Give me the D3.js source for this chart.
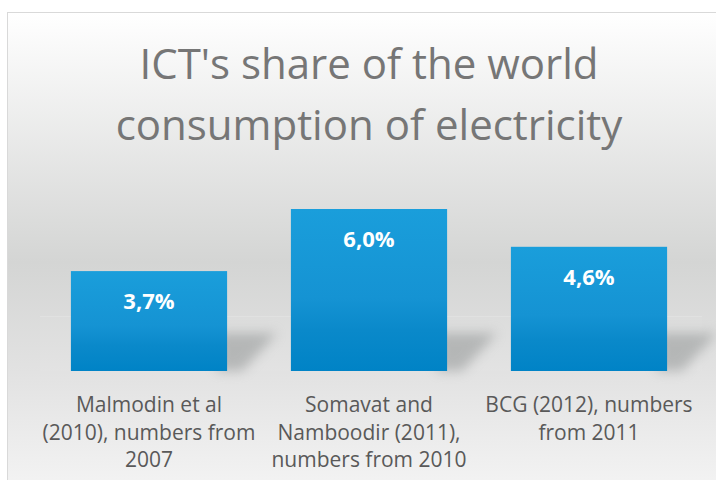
<!DOCTYPE html>
<html lang="en">
<head>
<meta charset="UTF-8">
<title>ICT's share of the world consumption of electricity</title>
<script src="https://d3js.org/d3.v7.min.js"></script>
<style>
    body { margin: 0; background: #fff; }
    svg { display: block; }
</style>
</head>
<body>
<div id="chart"></div>
<script>
// chart data
const categories = [
    ["Malmodin et al", "(2010), numbers from", "2007"],
    ["Somavat and", "Namboodir (2011),", "numbers from 2010"],
    ["BCG (2012), numbers", "from 2011"]
];
const values = [3.7, 6.0, 4.6];
const valueLabels = ["3,7%", "6,0%", "4,6%"];
const titleLines = ["ICT's share of the world", "consumption of electricity"];

const W = 716, H = 480;
const svg = d3.select("#chart").append("svg").attr("width", W).attr("height", H);
const defs = svg.append("defs");

// background gradient
const bg = defs.append("linearGradient").attr("id", "bg")
    .attr("x1", 0).attr("y1", 0).attr("x2", 0).attr("y2", 1);
bg.append("stop").attr("offset", "0%").attr("stop-color", "#ffffff");
bg.append("stop").attr("offset", "52%").attr("stop-color", "#d4d5d4");
bg.append("stop").attr("offset", "75%").attr("stop-color", "#e2e2e2");
bg.append("stop").attr("offset", "100%").attr("stop-color", "#f4f4f4");

// bar gradient
const bg2 = defs.append("linearGradient").attr("id", "barGrad")
    .attr("x1", 0).attr("y1", 0).attr("x2", 0).attr("y2", 1);
bg2.append("stop").attr("offset", "0%").attr("stop-color", "#1a9edb");
bg2.append("stop").attr("offset", "55%").attr("stop-color", "#1593d3");
bg2.append("stop").attr("offset", "75%").attr("stop-color", "#0a89ca");
bg2.append("stop").attr("offset", "100%").attr("stop-color", "#0083c6");

const blur = defs.append("filter").attr("id", "blur")
    .attr("x", "-50%").attr("y", "-50%").attr("width", "200%").attr("height", "200%");
blur.append("feGaussianBlur").attr("stdDeviation", 6);

svg.append("rect")
    .attr("x", 7.5).attr("y", 12.5).attr("width", W).attr("height", H)
    .attr("fill", "url(#bg)")
    .attr("stroke", "#d9d9d9");

// title
svg.append("g").selectAll("text")
    .data(titleLines)
    .join("text")
    .attr("x", 369)
    .attr("y", (d, i) => 79 + i * 61)
    .attr("text-anchor", "middle")
    .attr("font-family", "'Open Sans', sans-serif")
    .attr("font-size", 42)
    .attr("fill", "#767676")
    .text(d => d);

// scales
const baseY = 371;
const x = d3.scaleBand()
    .domain(d3.range(values.length))
    .range([39, 699])
    .paddingInner(0.29)
    .paddingOuter(0.145);
const y = d3.scaleLinear().domain([0, 6]).range([baseY, 209]);

const g = svg.append("g");

// very faint floor panel behind the bars
g.append("rect")
    .attr("x", 40).attr("y", 316)
    .attr("width", 662).attr("height", baseY - 316)
    .attr("fill", "#ffffff").attr("opacity", 0.05);
g.append("line")
    .attr("x1", 40).attr("x2", 702).attr("y1", 316.5).attr("y2", 316.5)
    .attr("stroke", "#ffffff").attr("opacity", 0.15);

// shadows
g.selectAll(".shadow")
    .data(values)
    .join("path")
    .attr("class", "shadow")
    .attr("d", (d, i) => {
        const x1 = x(i) + x.bandwidth();
        return `M${x1 - 10},${baseY} L${x1 + 15},${baseY} L${x1 + 50},${baseY - 38} L${x1 - 10},${baseY - 38} Z`;
    })
    .attr("fill", "#8a8e8e")
    .attr("opacity", 0.5)
    .attr("filter", "url(#blur)");

// bars
g.selectAll(".bar")
    .data(values)
    .join("rect")
    .attr("class", "bar")
    .attr("x", (d, i) => x(i))
    .attr("y", d => y(d))
    .attr("width", x.bandwidth())
    .attr("height", d => baseY - y(d))
    .attr("fill", "url(#barGrad)");

// value labels
g.selectAll(".val")
    .data(values)
    .join("text")
    .attr("class", "val")
    .attr("x", (d, i) => x(i) + x.bandwidth() / 2)
    .attr("y", d => y(d) + 38)
    .attr("text-anchor", "middle")
    .attr("font-family", "'Open Sans', sans-serif")
    .attr("font-weight", "bold")
    .attr("font-size", 22)
    .attr("fill", "#ffffff")
    .text((d, i) => valueLabels[i]);

// category labels
const cat = g.selectAll(".cat")
    .data(categories)
    .join("text")
    .attr("class", "cat")
    .attr("text-anchor", "middle")
    .attr("font-family", "'Open Sans', sans-serif")
    .attr("font-size", 21)
    .attr("fill", "#595959");
cat.selectAll("tspan")
    .data((d, i) => d.map(line => ({ line, i })))
    .join("tspan")
    .attr("x", d => x(d.i) + x.bandwidth() / 2)
    .attr("y", (d, j) => 412 + j * 27.5)
    .text(d => d.line);
</script>
</body>
</html>
